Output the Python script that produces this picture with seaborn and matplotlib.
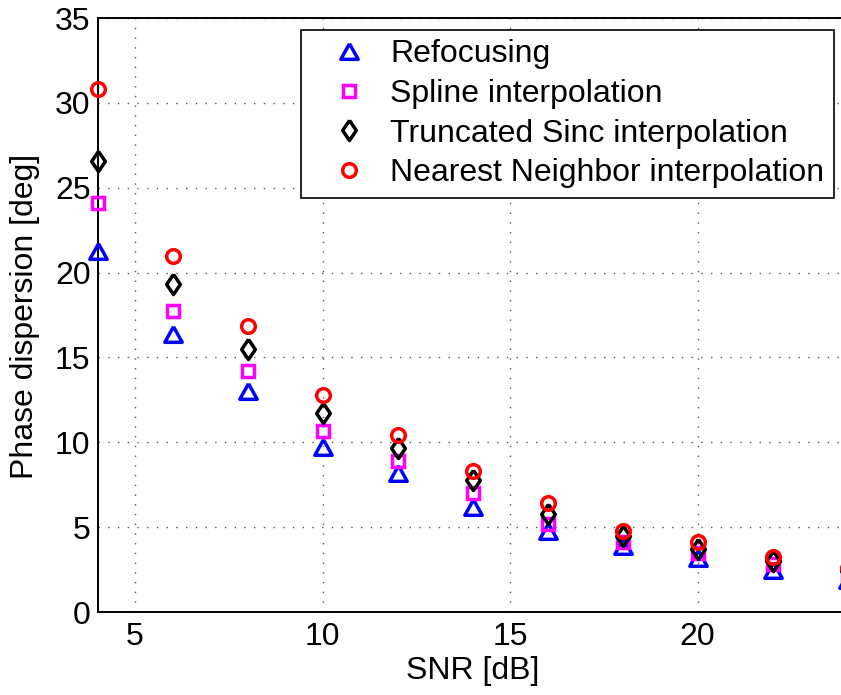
import matplotlib
matplotlib.use("Agg")
import matplotlib.pyplot as plt
import seaborn as sns
import pandas as pd

snr_db = [4, 6, 8, 10, 12, 14, 16, 18, 20, 22, 24]
refocusing = [21.3, 16.4, 13.0, 9.7, 8.2, 6.2, 4.8, 3.9, 3.2, 2.5, 1.9]
spline = [24.1, 17.75, 14.2, 10.65, 8.9, 7.0, 5.2, 4.1, 3.5, 2.8, 2.2]
trunc_sinc = [26.6, 19.3, 15.5, 11.7, 9.65, 7.75, 5.8, 4.5, 3.7, 3.0, 2.4]
nearest = [30.8, 20.95, 16.85, 12.8, 10.4, 8.3, 6.45, 4.75, 4.15, 3.25, 2.6]

series_names = ["Refocusing", "Spline interpolation",
                "Truncated Sinc interpolation", "Nearest Neighbor interpolation"]
series_values = [refocusing, spline, trunc_sinc, nearest]
colors = ["#0000ff", "#ff00ff", "#000000", "#ff0000"]

tri = [(0, 0.9), (-1, -0.9), (1, -0.9), (0, 0.9)]
dia = [(0, 1), (0.68, 0), (0, -1), (-0.68, 0), (0, 1)]
markers = [tri, "s", dia, "o"]
msizes = [12.5, 8.8, 14.5, 9.8]

x_ticks = [5, 10, 15, 20]
y_ticks = [0, 5, 10, 15, 20, 25, 30, 35]

sns.set_style("white")
plt.rcParams['font.family'] = ['Liberation Sans', 'DejaVu Sans']
plt.rcParams['text.color'] = 'black'
plt.rcParams['axes.labelcolor'] = 'black'
plt.rcParams['xtick.color'] = 'black'
plt.rcParams['ytick.color'] = 'black'

FS = 23
W, H = 841, 695
fig = plt.figure(figsize=(W / 100, H / 100), dpi=100)
ax = fig.add_axes([97.5 / W, (H - 612) / H, 750 / W, 594 / H])

for name, vals, c, m, ms in zip(series_names, series_values, colors, markers, msizes):
    df = pd.DataFrame({"SNR": snr_db, "val": vals})
    sns.lineplot(data=df, x="SNR", y="val", ax=ax, linestyle="none",
                 marker=m, markersize=ms, markerfacecolor="none",
                 markeredgecolor=c, markeredgewidth=2.5, color=c,
                 label=name, clip_on=False, zorder=5)

ax.set_xlim(4, 24)
ax.set_ylim(0, 35)
ax.set_xticks(x_ticks)
ax.set_yticks(y_ticks)
ax.tick_params(axis="both", direction="in", length=5.5, width=1,
               labelsize=FS, colors="black")
ax.tick_params(axis="x", pad=7)
ax.tick_params(axis="y", pad=5)
ax.grid(True, color="#555555", linestyle=(0, (1, 6)), linewidth=1)
for s in ax.spines.values():
    s.set_color("black")
    s.set_linewidth(1.4)

ax.set_xlabel("SNR [dB]", fontsize=FS, labelpad=3, color="black")
ax.set_ylabel("Phase dispersion [deg]", fontsize=FS, color="black")
ax.yaxis.set_label_coords(-0.077, 0.497)

leg = ax.legend(loc="upper left", bbox_to_anchor=(0.2713, 0.98),
                borderaxespad=0, fontsize=FS, frameon=True, fancybox=False,
                framealpha=1, edgecolor="black", borderpad=0.3,
                handlelength=2.4, handletextpad=0.1, labelspacing=0.3)
leg.get_frame().set_linewidth(1.2)
for t in leg.get_texts():
    t.set_color("black")

fig.savefig("out.png", dpi=100)
